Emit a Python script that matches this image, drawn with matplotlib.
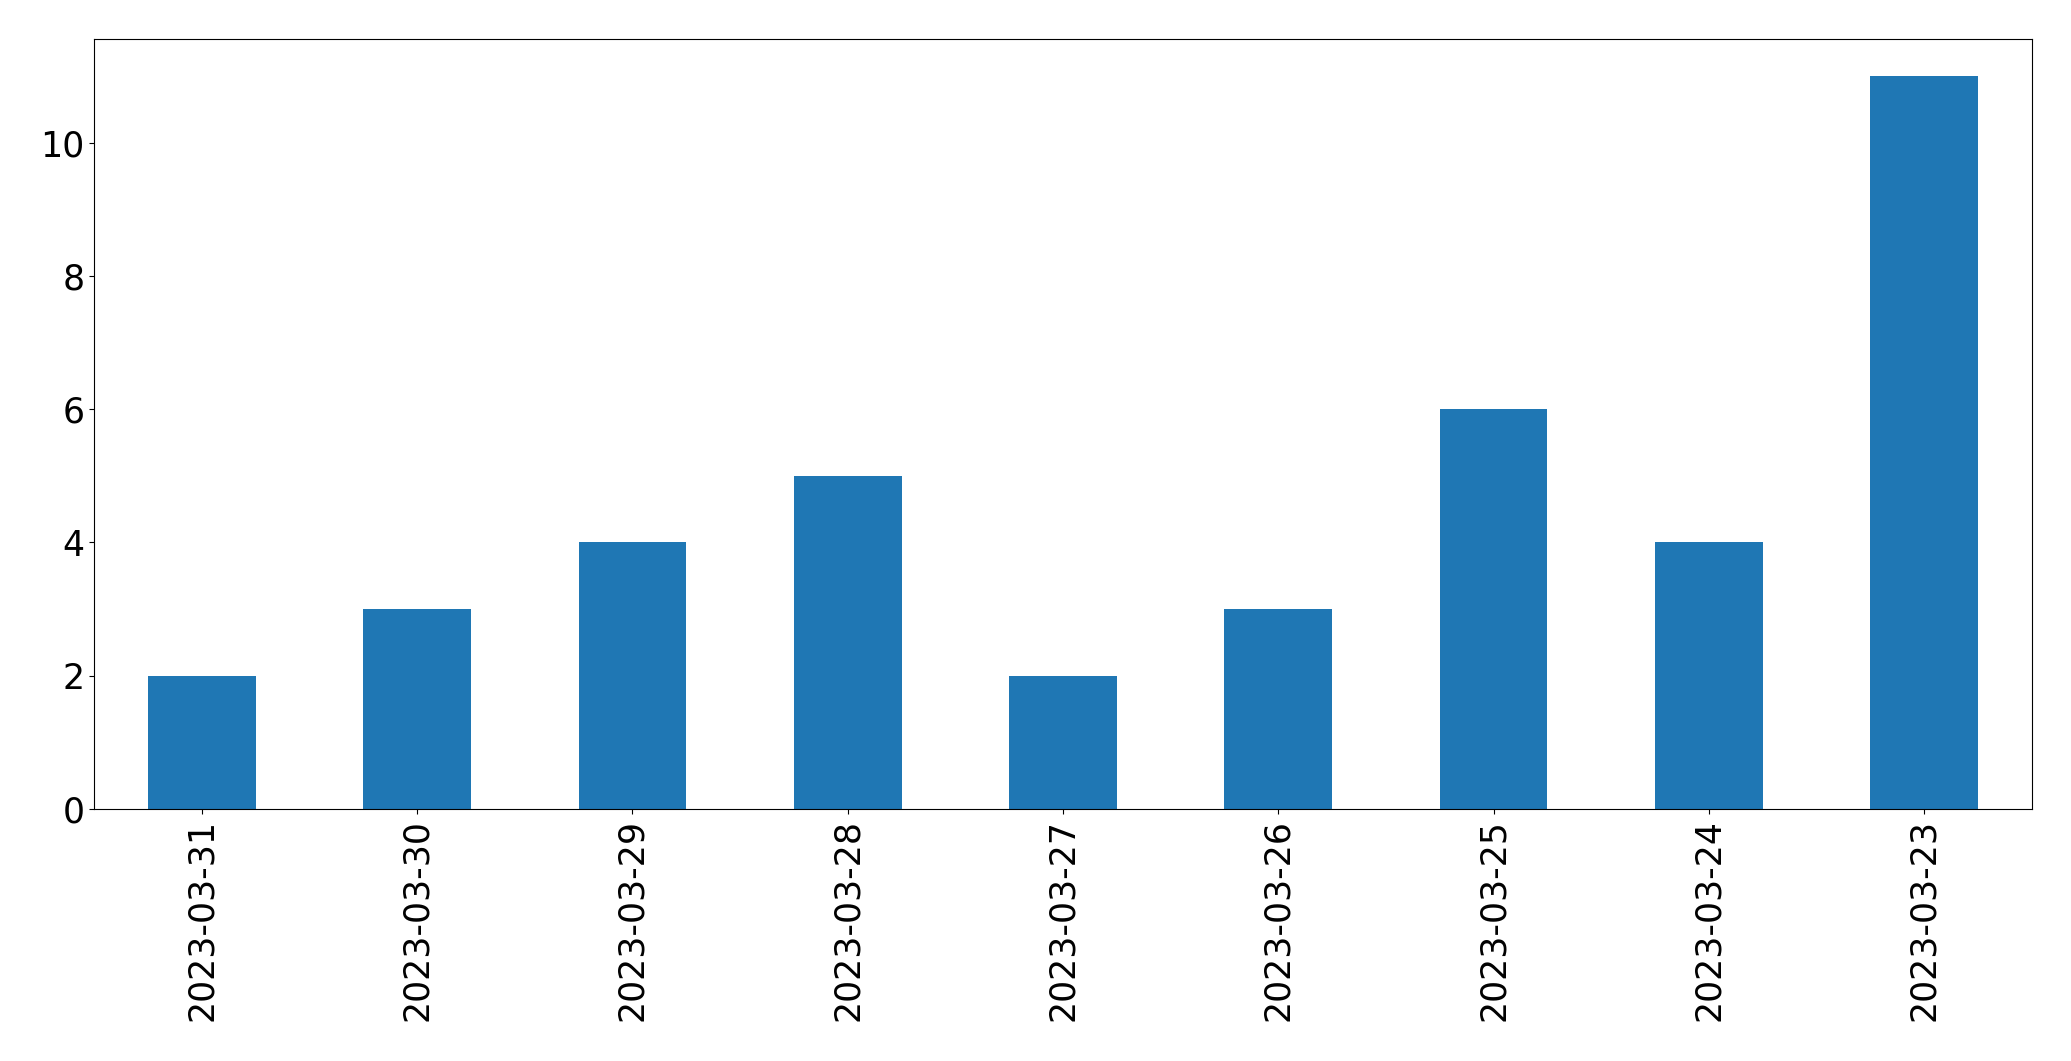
import matplotlib
matplotlib.use("Agg")
import matplotlib.pyplot as plt
import pandas as pd

dates = ["2023-03-31", "2023-03-30", "2023-03-29", "2023-03-28", "2023-03-27",
         "2023-03-26", "2023-03-25", "2023-03-24", "2023-03-23"]
counts = [2, 3, 4, 5, 2, 3, 6, 4, 11]

fig = plt.figure(figsize=(20.71, 10.61), dpi=100)
ax = fig.add_axes([94.3/2071, 1 - 809/1061, (2031.7 - 94.3)/2071, (809 - 39.3)/1061])
s = pd.Series(counts, index=dates)
s.plot(kind="bar", ax=ax, color="#1f77b4", width=0.5)
ax.tick_params(axis="both", labelsize=25)
ax.set_xlabel("")
fig.savefig("out.png", dpi=100)
